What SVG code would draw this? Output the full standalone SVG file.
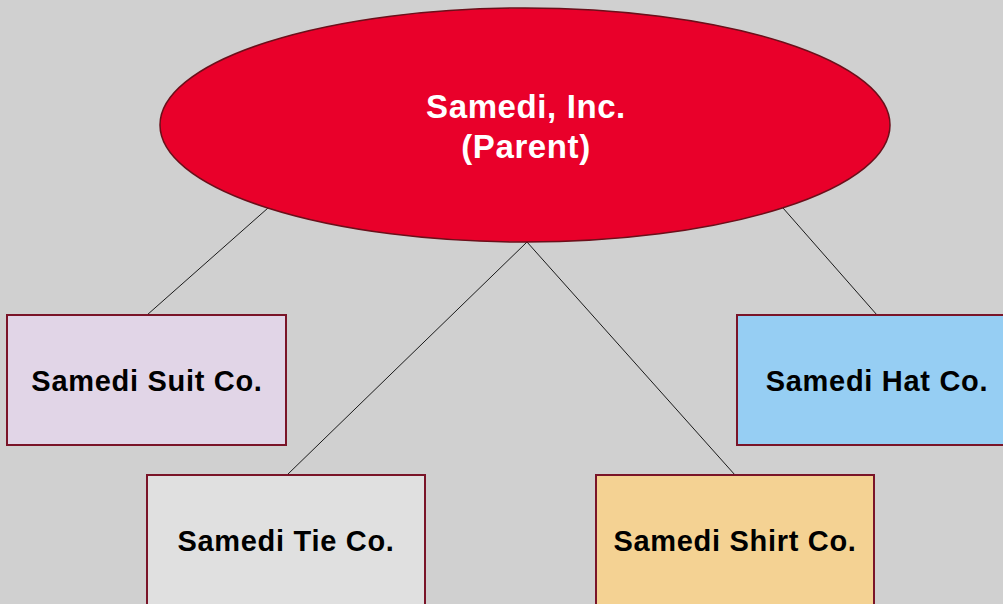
<svg xmlns="http://www.w3.org/2000/svg" width="1003" height="604" viewBox="0 0 1003 604">
  <style>
    .bg { fill: #d0d0d0; }
    .edge { stroke: #1a1a1a; stroke-width: 1; fill: none; }
    .box { stroke: #7a1428; stroke-width: 2; }
    .label { font-family: "Liberation Sans", Arial, sans-serif; font-weight: bold; font-size: 29px; letter-spacing: 0.7px; fill: #000; text-anchor: middle; }
    .parent-label { font-family: "Liberation Sans", Arial, sans-serif; font-weight: bold; font-size: 33px; letter-spacing: 0.6px; fill: #fff; text-anchor: middle; }
  </style>
  <rect class="bg" x="0" y="0" width="1003" height="604"/>

  <g id="connectors">
    <line class="edge" x1="147" y1="315" x2="268" y2="208"/>
    <line class="edge" x1="287" y1="475" x2="527" y2="242"/>
    <line class="edge" x1="735" y1="475" x2="527" y2="242"/>
    <line class="edge" x1="877" y1="315" x2="783" y2="208"/>
  </g>

  <g id="parent">
    <ellipse cx="525" cy="125" rx="365" ry="117" fill="#e9002a" stroke="#6b0f1a" stroke-width="1.5"/>
    <text class="parent-label" x="526" y="118">Samedi, Inc.</text>
    <text class="parent-label" x="526" y="158">(Parent)</text>
  </g>

  <g id="suit">
    <rect class="box" x="7" y="315" width="279" height="130" fill="#e1d5e7"/>
    <text class="label" x="147" y="391">Samedi Suit Co.</text>
  </g>

  <g id="hat">
    <rect class="box" x="737" y="315" width="280" height="130" fill="#96cef3"/>
    <text class="label" x="877" y="391">Samedi Hat Co.</text>
  </g>

  <g id="tie">
    <rect class="box" x="147" y="475" width="278" height="140" fill="#e0e0e0"/>
    <text class="label" x="286" y="551">Samedi Tie Co.</text>
  </g>

  <g id="shirt">
    <rect class="box" x="596" y="475" width="278" height="140" fill="#f4d293"/>
    <text class="label" x="735" y="551">Samedi Shirt Co.</text>
  </g>
</svg>
